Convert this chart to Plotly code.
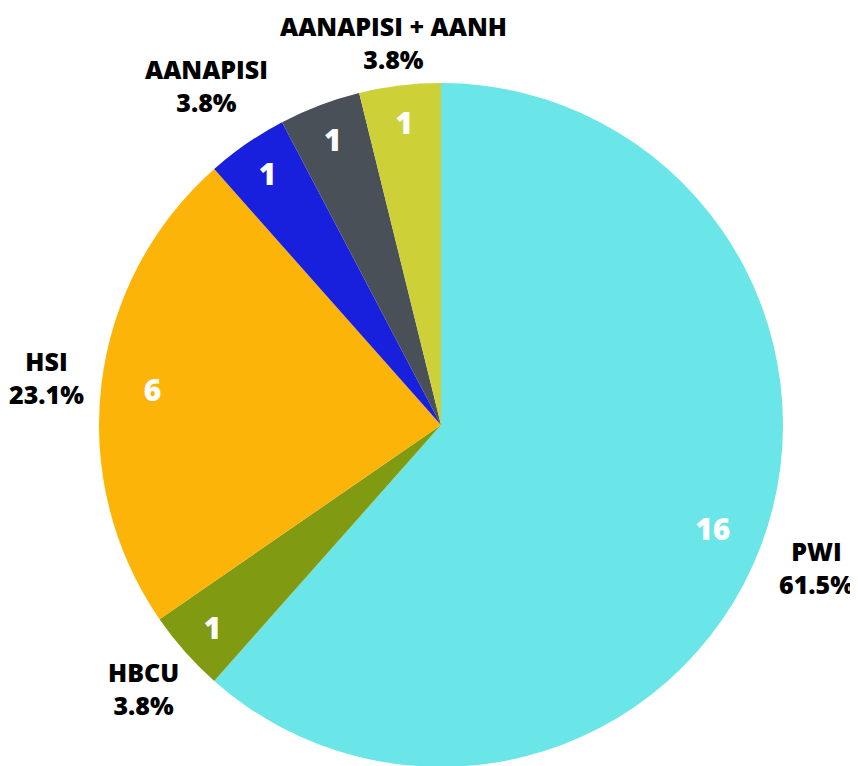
import math
import plotly.graph_objects as go

categories = ["PWI", "HBCU", "HSI", "AANAPISI", "AANH", "AANAPISI + AANH"]
counts = [16, 1, 6, 1, 1, 1]
colors = ["#6AE5E8", "#809B12", "#FDB408", "#1820DD", "#4A5058", "#CDD137"]
label_shown = [True, True, True, True, False, True]

W, H = 858, 766
FONT = "Open Sans"
LABEL_SIZE = 25
VALUE_SIZE = 30

# pie geometry (figure pixels)
CX, CY, R = 433, 417, 342
pie_domain = dict(x=[(CX - R) / W, (CX + R) / W],
                  y=[(H - CY - R) / H, (H - CY + R) / H])
clear = ["rgba(0,0,0,0)"] * len(categories)
common = dict(labels=categories, values=counts, sort=False, direction="clockwise",
              rotation=0, showlegend=False, domain=pie_domain)

fig = go.Figure()
fig.add_trace(go.Pie(**common, marker=dict(colors=colors, line=dict(width=0)),
                     textinfo="none"))
fig.add_trace(go.Pie(**common, hole=0.7, marker=dict(colors=clear, line=dict(width=0)),
                     textinfo="value", textposition="inside",
                     insidetextorientation="horizontal",
                     insidetextfont=dict(family=FONT, size=VALUE_SIZE, color="white", weight=800),
                     hoverinfo="skip"))

# outside category labels, placed beyond each slice's mid-angle
total = sum(counts)
cum = 0
annotations = []
for name, n, shown in zip(categories, counts, label_shown):
    mid = (cum + n / 2) / total * 2 * math.pi
    cum += n
    if not shown:
        continue
    pct = f"{n / total * 100:.1f}%"
    longest = max(len(name), len(pct))
    hw = longest * 0.6 * 24 / 2
    hh = 26
    s, c = math.sin(mid), math.cos(mid)
    d = R + 17 + hw * abs(s) + hh * abs(c)
    px, py = CX + d * s, CY - d * c
    py = max(py, hh + 8)
    annotations.append(dict(
        x=px / W, y=1 - py / H, xref="paper", yref="paper",
        text=f"{name}<br>{pct}", showarrow=False, xanchor="center", yanchor="middle",
        font=dict(family=FONT, size=LABEL_SIZE, color="black", weight=800),
    ))

fig.update_layout(
    width=W, height=H, margin=dict(l=0, r=0, t=0, b=0, autoexpand=False),
    paper_bgcolor="white", plot_bgcolor="white",
    uniformtext=dict(minsize=VALUE_SIZE, mode="show"),
    annotations=annotations,
)
fig.write_html("out.html")
